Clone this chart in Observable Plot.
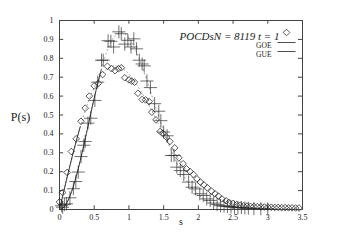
<!DOCTYPE html>
<html>
<head>
<meta charset="utf-8">
<script src="https://cdn.jsdelivr.net/npm/d3@7"></script>
<script src="https://cdn.jsdelivr.net/npm/@observablehq/plot@0.6"></script>
<style>
  html, body { margin: 0; padding: 0; background: #fff; }
</style>
</head>
<body>
<div id="chart"></div>
<script>
// Diamond series (POCDs, N = 8119, t = 1)
const sDiamond = [0,0.045,0.11,0.17,0.24,0.31,0.37,0.43,0.5,0.56,0.62,0.69,0.75,0.8,0.85,0.89,0.94,1.0,1.04,1.08,1.13,1.19,1.24,1.29,1.33,1.39,1.45,1.49,1.54,1.59,1.66,1.72,1.78,1.83,1.88,1.93,1.98,2.03,2.08,2.13,2.19,2.24,2.29,2.34,2.4,2.44,2.5,2.55,2.6,2.65,2.7,2.75,2.8,2.85,2.9,2.95,3.0,3.05,3.1,3.15,3.2,3.25,3.3,3.35,3.4,3.45];
const pDiamond = [0.04,0.09,0.196,0.307,0.374,0.467,0.536,0.60,0.654,0.668,0.714,0.758,0.745,0.735,0.745,0.75,0.697,0.686,0.679,0.674,0.615,0.582,0.58,0.571,0.515,0.474,0.413,0.404,0.383,0.36,0.326,0.273,0.242,0.215,0.201,0.185,0.162,0.145,0.13,0.115,0.097,0.083,0.071,0.056,0.046,0.037,0.032,0.026,0.023,0.019,0.018,0.017,0.016,0.015,0.014,0.013,0.013,0.012,0.011,0.011,0.010,0.010,0.009,0.009,0.008,0.008];
// Plus series
const sPlus = [0.03,0.045,0.07,0.1,0.15,0.2,0.235,0.27,0.31,0.35,0.37,0.41,0.45,0.51,0.55,0.605,0.63,0.70,0.74,0.78,0.855,0.89,0.94,0.985,1.03,1.07,1.11,1.15,1.19,1.22,1.26,1.31,1.37,1.43,1.46,1.50,1.55,1.61,1.65,1.69,1.74,1.79,1.86,1.91,1.96,2.02,2.07,2.12,2.17,2.22,2.27,2.32,2.37,2.42,2.47,2.52,2.57,2.62,2.67,2.72,2.8,2.9,3.0];
const pPlus = [0.02,0.012,0.026,0.03,0.062,0.11,0.148,0.198,0.28,0.34,0.36,0.457,0.483,0.577,0.674,0.79,0.79,0.893,0.89,0.86,0.94,0.93,0.875,0.895,0.86,0.903,0.85,0.79,0.77,0.76,0.68,0.645,0.56,0.52,0.47,0.41,0.39,0.286,0.286,0.224,0.206,0.185,0.145,0.118,0.109,0.083,0.074,0.056,0.048,0.034,0.026,0.02,0.018,0.016,0.014,0.012,0.01,0.01,0.008,0.007,0.005,0.004,0.003];
// Reference curves (GOE, GUE), read at these s values
const sCurve = [0,0.05,0.1,0.15,0.2,0.25,0.3,0.35,0.4,0.5,0.6,0.7,0.8,0.9,1.0,1.1,1.2,1.3,1.4,1.5,1.6,1.8,2.0,2.2,2.4,2.6,2.8,3.0,3.5];
const pGOE = [0,0.0784,0.1558,0.2315,0.3045,0.3739,0.4391,0.4994,0.5541,0.6454,0.7103,0.7484,0.7600,0.7484,0.7161,0.6683,0.6083,0.5419,0.4718,0.4012,0.3366,0.2219,0.1358,0.0774,0.0409,0.0202,0.0093,0.0040,0.0004];
const pGUE = [0,0.0081,0.0320,0.0709,0.1233,0.1871,0.2602,0.3398,0.4230,0.5895,0.7381,0.8514,0.9184,0.9362,0.9077,0.8406,0.7467,0.6370,0.5237,0.4157,0.3196,0.1697,0.0796,0.0331,0.0122,0.0040,0.0012,0.0003,0];
// Ticks and labels
const xTicks = [0,0.5,1,1.5,2,2.5,3,3.5];
const yTicks = [0,0.1,0.2,0.3,0.4,0.5,0.6,0.7,0.8,0.9,1];
const legendLabels = ["POCDsN = 8119 t = 1", "GOE", "GUE"];
const xLabel = "s";
const yLabel = "P(s)";

const diamonds = sDiamond.map((s, i) => ({s, p: pDiamond[i]}));
const pluses = sPlus.map((s, i) => ({s, p: pPlus[i]}));
const goe = sCurve.map((s, i) => ({s, p: pGOE[i]}));
const gue = sCurve.map((s, i) => ({s, p: pGUE[i]}));

const ink = "#222";
const font = "'Liberation Serif', 'DejaVu Serif', serif";
const lineSymbol = {draw(ctx) { ctx.moveTo(-9, 0); ctx.lineTo(9, 0); }};

const chart = Plot.plot({
  width: 338,
  height: 249,
  marginLeft: 59,
  marginRight: 36,
  marginTop: 20,
  marginBottom: 40,
  style: {fontFamily: font, background: "#fff", color: ink},
  x: {domain: [0, 3.5]},
  y: {domain: [0, 1]},
  marks: [
    Plot.frame({stroke: "#444", strokeWidth: 1}),
    // inward ticks, bottom/top
    Plot.ruleX(xTicks, {x: d => d, y1: 0, y2: 0.02, stroke: "#444"}),
    Plot.ruleX(xTicks, {x: d => d, y1: 0.98, y2: 1, stroke: "#444"}),
    // inward ticks, left/right
    Plot.ruleY(yTicks, {y: d => d, x1: 0, x2: 0.06, stroke: "#444"}),
    Plot.ruleY(yTicks, {y: d => d, x1: 3.44, x2: 3.5, stroke: "#444"}),
    Plot.axisX({ticks: xTicks, tickSize: 0, tickPadding: 5, fontSize: 8, label: null, tickFormat: d => String(d)}),
    Plot.axisY({ticks: yTicks, tickSize: 0, tickPadding: 6, fontSize: 8, label: null, tickFormat: d => String(d)}),
    // curves: dotted overall, solid on the steep rise
    Plot.line(goe, {x: "s", y: "p", stroke: "#777", strokeWidth: 0.7, strokeDasharray: "1,3", curve: "catmull-rom"}),
    Plot.line(gue, {x: "s", y: "p", stroke: "#777", strokeWidth: 0.7, strokeDasharray: "1,3", curve: "catmull-rom"}),
    Plot.line(goe.filter(d => d.s <= 0.3), {x: "s", y: "p", stroke: ink, strokeWidth: 0.9, curve: "catmull-rom"}),
    Plot.line(gue.filter(d => d.s <= 0.6), {x: "s", y: "p", stroke: ink, strokeWidth: 0.9, curve: "catmull-rom"}),
    // data points
    Plot.dot(diamonds, {x: "s", y: "p", symbol: "diamond2", r: 3, stroke: ink, strokeWidth: 0.75, fill: "none"}),
    Plot.dot(pluses, {x: "s", y: "p", symbol: "plus", r: 4.3, stroke: ink, strokeWidth: 0.65}),
    // legend
    Plot.text([legendLabels[0]], {frameAnchor: "top-right", dx: -23, dy: 12, textAnchor: "end", fontSize: 11, fontStyle: "italic"}),
    Plot.dot([0], {frameAnchor: "top-right", dx: -16, dy: 12, symbol: "diamond2", r: 3, stroke: ink, strokeWidth: 0.75, fill: "none"}),
    Plot.text([legendLabels[1]], {frameAnchor: "top-right", dx: -31, dy: 22, textAnchor: "end", fontSize: 7.5}),
    Plot.dot([0], {frameAnchor: "top-right", dx: -16, dy: 22, symbol: lineSymbol, r: 9, stroke: ink, strokeWidth: 0.8}),
    Plot.text([legendLabels[2]], {frameAnchor: "top-right", dx: -31, dy: 31, textAnchor: "end", fontSize: 7.5}),
    Plot.dot([0], {frameAnchor: "top-right", dx: -16, dy: 31, symbol: lineSymbol, r: 9, stroke: ink, strokeWidth: 0.8}),
    // axis titles
    Plot.text([xLabel], {frameAnchor: "bottom", dy: 15, fontSize: 10}),
    Plot.text([yLabel], {frameAnchor: "left", dx: -39, dy: 2, fontSize: 12, textAnchor: "middle"})
  ]
});
document.getElementById("chart").appendChild(chart);
</script>
</body>
</html>
